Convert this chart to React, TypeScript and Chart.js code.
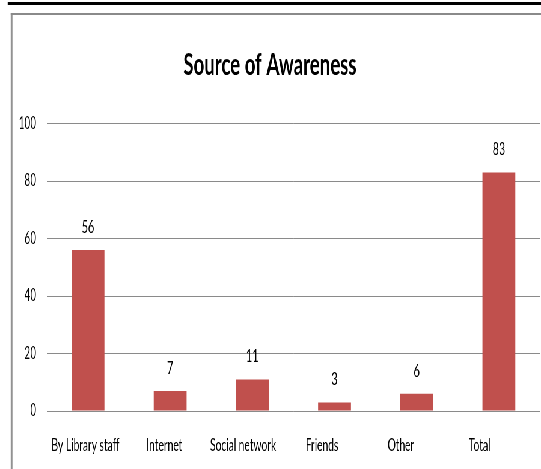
import React, { useEffect, useRef } from "react";
import { Chart, registerables } from "chart.js";

Chart.register(...registerables);

// Survey data: how respondents learned about the library service
const categories: string[] = [
  "By Library staff",
  "Internet",
  "Social network",
  "Friends",
  "Other",
  "Total",
];
const counts: number[] = [56, 7, 11, 3, 6, 83];

// Value axis range
const yMin = 0;
const yMax = 100;
const yStep = 20;

const chartTitle = "Source of Awareness";

// The drawing is laid out on a wide surface and condensed horizontally.
const VIEW_W = 541;
const VIEW_H = 469;
const WIDE_W = 900;
const SQUEEZE = VIEW_W / WIDE_W;

const FONT = "Lato, 'Open Sans', sans-serif";
const BAR_COLOR = "#C0504D";
const GRID_COLOR = "#8a8a8a";

// Category label axis: a linear scale whose integer ticks carry the names
const LABEL_AXIS_MIN = -0.4886;
const LABEL_AXIS_MAX = 5.764;

const valueLabels = {
  id: "valueLabels",
  afterDatasetsDraw(chart: any) {
    const { ctx } = chart;
    const meta = chart.getDatasetMeta(0);
    ctx.save();
    ctx.font = `18px ${FONT}`;
    ctx.fillStyle = "#000";
    ctx.textAlign = "center";
    ctx.textBaseline = "alphabetic";
    meta.data.forEach((bar: any, i: number) => {
      ctx.fillText(String(counts[i]), bar.x, bar.y - 17);
    });
    ctx.restore();
  },
};

export default function App() {
  const canvasRef = useRef<HTMLCanvasElement | null>(null);

  useEffect(() => {
    if (!canvasRef.current) return;
    const chart = new Chart(canvasRef.current, {
      type: "bar",
      data: {
        labels: categories,
        datasets: [
          {
            data: counts,
            backgroundColor: BAR_COLOR,
            borderWidth: 0,
            barPercentage: 0.4,
            categoryPercentage: 1,
            xAxisID: "x",
            yAxisID: "y",
          },
        ],
      },
      options: {
        animation: false,
        responsive: false,
        devicePixelRatio: 1,
        layout: { padding: { left: 0, right: 1.7, top: 0, bottom: 0 } },
        plugins: {
          legend: { display: false },
          tooltip: { enabled: false },
          title: {
            display: true,
            text: chartTitle,
            color: "#000",
            font: { family: FONT, size: 31, weight: "bold" },
            padding: { top: 46.4, bottom: 39.9 },
          },
        },
        scales: {
          x: {
            type: "category",
            display: false,
            offset: true,
          },
          xl: {
            type: "linear",
            position: "bottom",
            bounds: "data",
            offset: false,
            min: LABEL_AXIS_MIN,
            max: LABEL_AXIS_MAX,
            grid: { display: false, drawTicks: false, offset: false },
            border: { display: false },
            ticks: {
              autoSkip: false,
              maxRotation: 0,
              padding: 24.7,
              color: "#000",
              font: { family: FONT, size: 17 },
              callback: (v: any) => {
                const i = Math.round(Number(v));
                return categories[i] ?? "";
              },
            },
            afterBuildTicks: (s: any) => {
              s.ticks = categories.map((_, i) => ({ value: i }));
            },
            afterFit: (s: any) => {
              s.height = VIEW_H - 411;
            },
          },
          y: {
            type: "linear",
            min: yMin,
            max: yMax,
            grid: { color: GRID_COLOR, lineWidth: 1, drawTicks: false },
            border: { display: false },
            ticks: {
              stepSize: yStep,
              padding: 18,
              color: "#000",
              font: { family: FONT, size: 16.5 },
            },
            afterFit: (s: any) => {
              s.width = 78;
            },
          },
        },
      },
      plugins: [valueLabels],
    });
    return () => chart.destroy();
  }, []);

  return (
    <div
      style={{
        position: "absolute",
        left: 0,
        top: 0,
        width: VIEW_W,
        height: VIEW_H,
        overflow: "hidden",
        background: "#fff",
      }}
    >
      <div
        style={{
          position: "absolute",
          left: 0,
          top: 0,
          width: WIDE_W,
          height: VIEW_H,
          transform: `scaleX(${SQUEEZE})`,
          transformOrigin: "0 0",
        }}
      >
        {/* heavy rule across the top */}
        <div
          style={{
            position: "absolute",
            left: 13,
            top: 2,
            width: WIDE_W - 13,
            height: 3,
            background: "#000",
          }}
        />
        {/* chart frame */}
        <div
          style={{
            position: "absolute",
            left: 18,
            top: 13,
            width: WIDE_W,
            height: VIEW_H,
            borderTop: `2px solid ${GRID_COLOR}`,
            borderLeft: `3px solid ${GRID_COLOR}`,
          }}
        />
        <canvas
          ref={canvasRef}
          width={WIDE_W}
          height={VIEW_H}
          style={{ position: "absolute", left: 0, top: 0 }}
        />
      </div>
    </div>
  );
}
